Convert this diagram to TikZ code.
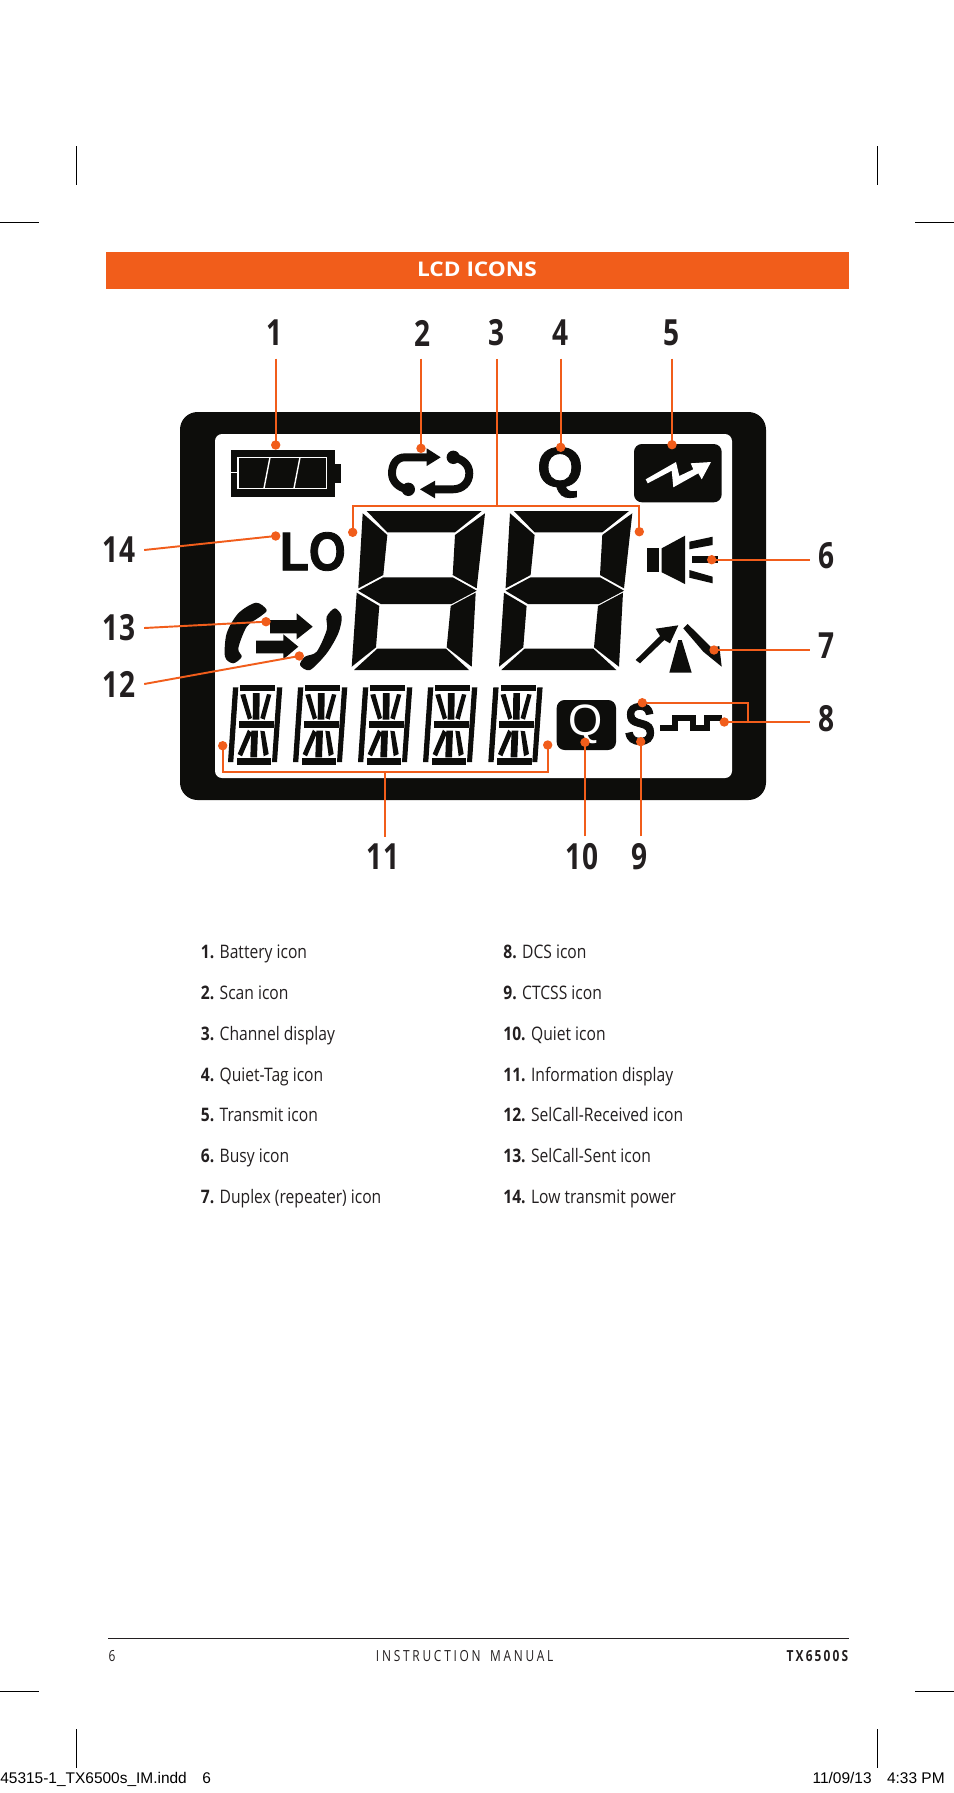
\documentclass[tikz,border=0pt]{standalone}
\usepackage{fontspec}
\setmainfont[FakeStretch=0.84]{Open Sans}
\newfontfamily\numfont[FakeStretch=0.78]{Open Sans}
\newfontfamily\headfont[FakeStretch=1.12]{Open Sans}
\newfontfamily\footfont[FakeStretch=0.78,LetterSpace=18,WordSpace=1.6]{Open Sans}
\newfontfamily\modelfont[FakeStretch=0.78,LetterSpace=14]{Open Sans}
\newfontfamily\slugfont{Liberation Sans}
\newfontfamily\lofont[BoldFeatures={FakeStretch=0.87,FakeBold=1.5}]{Liberation Sans}
\newfontfamily\tagfont[BoldFeatures={FakeStretch=1.05,FakeBold=1.5}]{Liberation Sans}
\newfontfamily\sfont[BoldFeatures={FakeStretch=0.8,FakeBold=1.5}]{Liberation Sans}
\definecolor{barorange}{HTML}{F15D1B}
\definecolor{lcdblack}{HTML}{0D0D0B}
\definecolor{printblack}{HTML}{231F20}
\tikzset{
  lcd/.style={fill=lcdblack},
  leader/.style={draw=barorange,line width=1.1pt},
  dotmark/.style={fill=barorange},
  crop/.style={draw=black,line width=0.5pt},
  numlabel/.style={font=\fontsize{20.5}{24}\numfont\bfseries,text=printblack,inner xsep=5pt},
  toplabel/.style={numlabel,inner ysep=7pt},
  botlabel/.style={numlabel,inner ysep=4pt},
  listitem/.style={font=\fontsize{10.6}{13}\selectfont,text=printblack,anchor=base west,inner sep=0},
  footitem/.style={font=\fontsize{8.7}{11}\footfont,text=printblack,inner sep=0},
  slug/.style={font=\fontsize{8.8}{10}\slugfont,text=black,inner sep=0,anchor=base}
}
\begin{document}
\begin{tikzpicture}[x=0.02cm,y=-0.02cm]
\useasboundingbox (0,0) rectangle (954,1793);
% crop marks
\foreach \xa in {76.7,877.7}{
  \draw[crop] (\xa,146) -- (\xa,184.7);
  \draw[crop] (\xa,1729) -- (\xa,1767.7);
}
\foreach \ya in {222.3,1691.3}{
  \draw[crop] (0,\ya) -- (39,\ya);
  \draw[crop] (915,\ya) -- (954,\ya);
}
% title bar
\fill[barorange] (106,252) rectangle (848.5,289);
\node[font=\fontsize{11.5}{14}\headfont\bfseries,text=white,inner sep=0] (title) at (477,269.5) {LCD ICONS};
% frame of the display
\fill[lcd,rounded corners=10pt] (180,412) rectangle (766,800);
\fill[white,rounded corners=4pt] (215,434) rectangle (732,778);
% battery
\fill[lcd] (231,450) rectangle (335,497);
\fill[lcd] (335,464) rectangle (341,483);
\draw[white,line width=0.8pt] (238,457.3) rectangle (326.7,488.3);
\draw[white,line width=0.8pt] (231,472.7) -- (238,472.7);
\draw[white,line width=0.8pt] (270,457.3) -- (264,488.3);
\draw[white,line width=0.8pt] (300,457.3) -- (294,488.3);
% scan arrows
\draw[lcdblack,line width=4.5pt] (428,457.3) -- (405,457.3) .. controls (396,457.3) and (392,465) .. (392,473.3) .. controls (392,481) and (398,488) .. (408.3,489.3);
\fill[lcd] (440.7,457.3) -- (426.7,448.3) -- (426.7,466) -- cycle;
\fill[lcd] (408.3,489.3) circle[radius=6.7];
\draw[lcdblack,line width=4.5pt] (453.3,457.3) .. controls (463,459) and (469.3,465) .. (469.3,473.3) .. controls (469.3,483) and (462,489.3) .. (453,489.3) -- (433,489.3);
\fill[lcd] (420,489.3) -- (435,480.7) -- (435,498.3) -- cycle;
\fill[lcd] (453.3,457.3) circle[radius=6.7];
% quiet tag
\node[font=\fontsize{32}{34}\tagfont\bfseries,text=lcdblack,inner sep=0] (tagq) at (560,472.5) {Q};
% transmit
\fill[lcd,rounded corners=4.5pt] (634,444) rectangle (721.7,502.3);
\fill[white] (645.7,479.3) -- (676,462) -- (679.3,476) -- (693.3,469.3) -- (690.7,463.3) -- (711,462) -- (701.7,479.3) -- (698.3,473.3) -- (673.3,487.3) -- (671.7,470.7) -- (647.7,483.3) -- cycle;
% low power
\node[font=\fontsize{31}{34}\lofont\bfseries,text=lcdblack,inner sep=0] (lo) at (312.8,551.5) {LO};
% channel digits
\foreach \dx in {0,147.3}{
\begin{scope}[shift={(\dx,0)}]
\fill[lcd] (366.7,511) -- (481.7,511) -- (455,532.3) -- (387.3,532.3) -- cycle;% Top Segment
\fill[lcd] (362.7,513.3) -- (387.3,535) -- (383.3,575) -- (358.3,588.3) -- cycle;% Upper Left Segment
\fill[lcd] (485,513.3) -- (455,535) -- (452.7,575) -- (476.7,588.3) -- cycle;% Upper Right Segment
\fill[lcd] (358.3,590.7) -- (383.3,577.3) -- (452.7,577.3) -- (476.7,590.7) -- (451.7,604) -- (380.7,604) -- cycle;% Middle Segment
\fill[lcd] (356.7,592.7) -- (379.3,606) -- (376,647.3) -- (351.7,666.7) -- cycle;% Lower Left Segment
\fill[lcd] (475.7,592.7) -- (450.7,606) -- (446.7,647.3) -- (471.7,666.7) -- cycle;% Lower Right Segment
\fill[lcd] (354,670) -- (377.3,648.7) -- (446,648.7) -- (469,670) -- cycle;% Bottom Segment
\end{scope}
}
% speaker
\fill[lcd] (646.7,548.3) rectangle (659.3,572.3);
\fill[lcd] (661.7,548.3) -- (685,535.7) -- (685,584) -- (661.7,572.3) -- cycle;
\fill[lcd] (689.3,541.7) -- (712.7,536.7) -- (712.7,545) -- (689.3,549.3) -- cycle;
\fill[lcd] (692.3,556) rectangle (718,563.3);
\fill[lcd] (689.3,570) -- (712.7,576.7) -- (712.7,583.3) -- (689.3,577.7) -- cycle;
% duplex
\fill[lcd] (635.7,660) -- (660,636) -- (655.7,628.7) -- (678.3,625.3) -- (670,643.3) -- (664.3,640) -- (640,663.3) -- cycle;
\fill[lcd] (683.3,628.3) -- (687.7,624) -- (712.3,648.3) -- (719.3,646) -- (721.7,666.7) -- (703.3,651.7) -- cycle;
\fill[lcd] (678.3,640) -- (681.7,640) -- (691.7,672.7) -- (669.3,672.7) -- cycle;
% handsets and selcall arrows
\fill[lcd] plot[smooth cycle,tension=0.5] coordinates {(256,602.7) (266.7,610) (260,616.7) (246.7,626.7) (238.3,648.3) (241.7,656.7) (233.3,663.3) (225,656.7) (226.7,633.3) (238.3,613.3)};
\fill[lcd] plot[smooth cycle,tension=0.5] coordinates {(335,608.3) (341.7,616.7) (338.3,633.3) (326.7,653.3) (310,670) (300,665) (305,656.7) (316.7,651.7) (326.7,630) (326.7,616.7)};
\fill[lcd] (270,620) -- (296.7,620) -- (296.7,613.3) -- (312.7,626.7) -- (296.7,639.3) -- (296.7,633.3) -- (270,633.3) -- cycle;
\fill[lcd] (256,640.7) -- (283.3,640.7) -- (283.3,634.3) -- (298.3,646.7) -- (283.3,659.3) -- (283.3,653.3) -- (256,653.3) -- cycle;
% information display
\foreach \dx in {0,65,130,195,260.3}{
\begin{scope}[shift={(\dx,0)}]
\fill[lcd] (233,687.3) -- (238.3,687.3) -- (233.3,762) -- (228,762) -- cycle;% Left Bar
\fill[lcd] (277,687.3) -- (282.3,687.3) -- (277,762) -- (272,762) -- cycle;% Right Bar
\fill[lcd] (240.3,684.7) rectangle (275.3,691.3);% Top Bar
\fill[lcd] (237,758) rectangle (271.3,765.3);% Bottom Bar
\fill[lcd] (238.7,721.3) rectangle (273.7,728.3);% Middle Bar
\fill[lcd] (253,693) -- (259.7,693) -- (259.3,719.7) -- (252.7,719.7) -- cycle;
\fill[lcd] (251.3,730.7) -- (258,730.7) -- (257,757.3) -- (250.3,757.3) -- cycle;
\fill[lcd] (240.3,694.7) -- (245.3,694) -- (252,718) -- (248,719.7) -- cycle;
\fill[lcd] (267,694) -- (271.3,694.7) -- (264.7,719.7) -- (260.3,718) -- cycle;
\fill[lcd] (237.7,754) -- (242,756.3) -- (252,733) -- (248,729.7) -- cycle;
\fill[lcd] (260.3,730.7) -- (264.7,731.3) -- (268.7,754) -- (263.7,756.3) -- cycle;
\end{scope}
}
% quiet box, ctcss, dcs
\fill[lcd,rounded corners=4.5pt] (556.7,700) rectangle (616,750);
\node[font=\fontsize{25}{27}\slugfont,text=white,inner sep=0] (boxq) at (586,724) {Q};
\node[font=\fontsize{33}{35}\sfont\bfseries,text=lcdblack,inner sep=0] (ctcss) at (640,724) {S};
\draw[lcdblack,line width=3.6pt] (660,728.3) -- (675,728.3) -- (675,718.3) -- (693.3,718.3) -- (693.3,728.3) -- (707,728.3) -- (707,718.3) -- (722,718.3);
% callout numbers
\node[toplabel] (lbl1) at (275,333) {1};
\node[toplabel] (lbl2) at (423,333) {2};
\node[toplabel] (lbl3) at (497,333) {3};
\node[toplabel] (lbl4) at (560.6,333) {4};
\node[toplabel] (lbl5) at (672,333) {5};
\node[numlabel] (lbl6) at (827,556) {6};
\node[numlabel] (lbl7) at (827,646) {7};
\node[numlabel] (lbl8) at (827,719) {8};
\node[botlabel] (lbl9) at (640,857) {9};
\node[botlabel] (lbl10) at (582,857) {10};
\node[botlabel] (lbl11) at (383,857) {11};
\node[numlabel] (lbl12) at (119,684) {12};
\node[numlabel] (lbl13) at (119,628) {13};
\node[numlabel] (lbl14) at (119,550) {14};
% points the leaders run to
\coordinate (dot1) at (275.7,445);
\coordinate (dot2) at (421,448.3);
\coordinate (dot3a) at (352.7,532.3);
\coordinate (dot3b) at (639.3,531.7);
\coordinate (dot4) at (560.7,447.3);
\coordinate (dot5) at (672,444.7);
\coordinate (dot6) at (711.7,559.7);
\coordinate (dot7) at (714,650);
\coordinate (dot8a) at (724.3,722);
\coordinate (dot8b) at (642.3,702.7);
\coordinate (dot9) at (640.7,741.7);
\coordinate (dot10) at (585,742.3);
\coordinate (dot11a) at (222.7,745.7);
\coordinate (dot11b) at (547.7,745);
\coordinate (dot12) at (299.3,656);
\coordinate (dot13) at (266,621.7);
\coordinate (dot14) at (275.7,536);
\coordinate (join3) at (497.3,506);
\coordinate (join8) at (747.7,722);
\coordinate (join11) at (385.3,771.7);
% leaders
\draw[leader] (dot1 |- lbl1.south) -- (dot1);
\draw[leader] (dot2 |- lbl2.south) -- (dot2);
\draw[leader] (join3 |- lbl3.south) -- (join3);
\draw[leader] (dot3a) -- (dot3a |- join3) -- (dot3b |- join3) -- (dot3b);
\draw[leader] (dot4 |- lbl4.south) -- (dot4);
\draw[leader] (dot5 |- lbl5.south) -- (dot5);
\draw[leader] (lbl6.west |- dot6) -- (dot6);
\draw[leader] (lbl7.west |- dot7) -- (dot7);
\draw[leader] (lbl8.west |- dot8a) -- (dot8a);
\draw[leader] (join8) -- (join8 |- dot8b) -- (dot8b);
\draw[leader] (dot9 |- lbl9.north) -- (dot9);
\draw[leader] (dot10 |- lbl10.north) -- (dot10);
\draw[leader] (join11 |- lbl11.north) -- (join11);
\draw[leader] (dot11a) -- (dot11a |- join11) -- (dot11b |- join11) -- (dot11b);
\draw[leader] (lbl12.east) -- (dot12);
\draw[leader] (lbl13.east) -- (dot13);
\draw[leader] (lbl14.east) -- (dot14);
\foreach \xy in {dot1,dot2,dot3a,dot3b,dot4,dot5,dot6,dot7,dot8a,dot8b,dot9,dot10,dot11a,dot11b,dot12,dot13,dot14}{
  \fill[dotmark] (\xy) circle[radius=4.7];
}
% list of icons
\foreach \num/\txt [count=\i from 0] in {1/Battery icon,2/Scan icon,3/Channel display,4/Quiet-Tag icon,5/Transmit icon,6/Busy icon,7/Duplex (repeater) icon}{
  \node[listitem] (left\num) at (200.5,958.3+\i*40.9) {\textbf{\num.} \txt};
}
\foreach \num/\txt [count=\i from 0] in {8/DCS icon,9/CTCSS icon,10/Quiet icon,11/Information display,12/SelCall-Received icon,13/SelCall-Sent icon,14/Low transmit power}{
  \node[listitem] (right\num) at (503,958.3+\i*40.9) {\textbf{\num.} \txt};
}
% footer
\draw[draw=printblack,line width=0.6pt] (108.3,1638.3) -- (848.5,1638.3);
\node[footitem,anchor=base west] (pagenum) at (108.3,1661) {6};
\node[footitem,anchor=base] (manual) at (464.7,1661) {INSTRUCTION MANUAL};
\node[footitem,font=\fontsize{8.7}{11}\modelfont\bfseries,anchor=base east] (model) at (848.5,1661) {TX6500S};
% printer's slug
\node[slug,anchor=base west] (slugfile) at (0,1783) {45315-1\_TX6500s\_IM.indd\hspace{1em}6};
\node[slug,anchor=base east] (slugdate) at (945,1783) {11/09/13\hspace{1em}4:33 PM};
\end{tikzpicture}
\end{document}
